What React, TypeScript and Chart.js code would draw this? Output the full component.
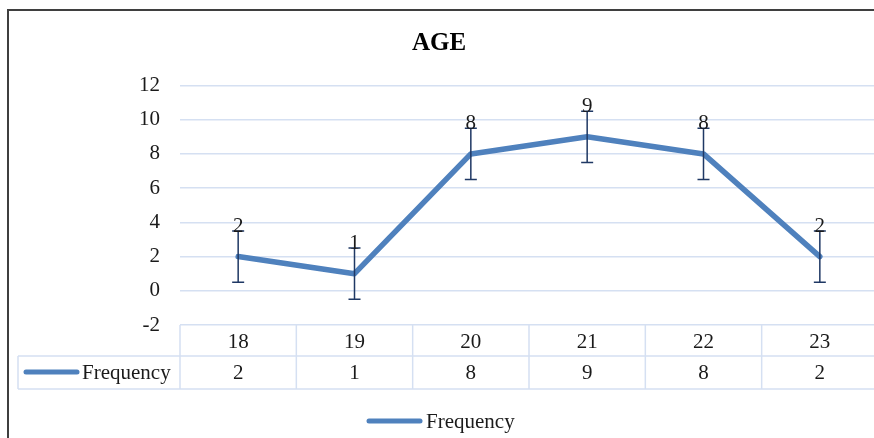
import React, { useEffect, useRef } from "react";
import { Chart, registerables } from "chart.js";

Chart.register(...registerables);

const TITLE = "AGE";
const SERIES_LABEL = "Frequency";
const CATEGORIES = ["18", "19", "20", "21", "22", "23"];
const FREQUENCY = [2, 1, 8, 9, 8, 2];
const ERROR_AMOUNT = [1.5, 1.5, 1.5, 1.5, 1.5, 1.5];
const Y_MIN = -2;
const Y_MAX = 12;
const Y_STEP = 2;

const FONT = '"Liberation Serif", "Times New Roman", serif';
const LINE_COLOR = "#4F81BD";
const GRID_COLOR = "#D5E0F2";
const ERR_COLOR = "#1F3864";
const TEXT_COLOR = "#1a1a1a";

const extrasPlugin = {
  id: "extras",
  beforeDraw(chart: any) {
    const ctx = chart.ctx;
    ctx.save();
    ctx.fillStyle = "#ffffff";
    ctx.fillRect(0, 0, chart.width, chart.height);
    // outer frame
    ctx.fillStyle = "#3f3f3f";
    ctx.fillRect(7, 9, 2, chart.height);
    ctx.fillRect(7, 9, chart.width, 2);
    ctx.restore();
  },
  afterDatasetsDraw(chart: any) {
    const ctx = chart.ctx;
    const xs = chart.scales.x;
    const ys = chart.scales.y;
    const area = chart.chartArea;
    const ds = chart.data.datasets[0];
    const vals: number[] = ds.data;
    const errs: number[] = ds.errors;
    const n = chart.data.labels.length;
    const colW = (area.right - area.left) / n;
    ctx.save();

    // error bars
    ctx.strokeStyle = ERR_COLOR;
    ctx.lineWidth = 1.5;
    for (let i = 0; i < n; i++) {
      const x = xs.getPixelForValue(i);
      const yTop = ys.getPixelForValue(vals[i] + errs[i]);
      const yBot = ys.getPixelForValue(vals[i] - errs[i]);
      ctx.beginPath();
      ctx.moveTo(x, yTop);
      ctx.lineTo(x, yBot);
      ctx.moveTo(x - 6, yTop);
      ctx.lineTo(x + 6, yTop);
      ctx.moveTo(x - 6, yBot);
      ctx.lineTo(x + 6, yBot);
      ctx.stroke();
    }

    // data labels
    ctx.fillStyle = TEXT_COLOR;
    ctx.font = `21px ${FONT}`;
    ctx.textAlign = "center";
    ctx.textBaseline = "alphabetic";
    for (let i = 0; i < n; i++) {
      const x = xs.getPixelForValue(i);
      const yTop = ys.getPixelForValue(vals[i] + errs[i]);
      ctx.fillText(String(vals[i]), x, yTop + 1);
    }

    // data table
    const top = area.bottom;
    const mid = top + 31;
    const bot = top + 64;
    const tableLeft = 18;
    ctx.strokeStyle = GRID_COLOR;
    ctx.lineWidth = 1.5;
    ctx.beginPath();
    ctx.moveTo(tableLeft, mid);
    ctx.lineTo(chart.width, mid);
    ctx.moveTo(tableLeft, bot);
    ctx.lineTo(chart.width, bot);
    ctx.moveTo(tableLeft, mid);
    ctx.lineTo(tableLeft, bot);
    for (let i = 0; i <= n; i++) {
      const bx = area.left + i * colW;
      ctx.moveTo(bx, top);
      ctx.lineTo(bx, bot);
    }
    ctx.stroke();

    ctx.fillStyle = TEXT_COLOR;
    ctx.font = `21px ${FONT}`;
    ctx.textAlign = "center";
    for (let i = 0; i < n; i++) {
      const x = xs.getPixelForValue(i);
      ctx.fillText(String(chart.data.labels[i]), x, top + 23);
      ctx.fillText(String(vals[i]), x, mid + 23);
    }

    // legend key inside table
    ctx.strokeStyle = ds.borderColor;
    ctx.lineWidth = 5;
    ctx.lineCap = "round";
    ctx.beginPath();
    ctx.moveTo(26, mid + 16);
    ctx.lineTo(77, mid + 16);
    ctx.stroke();
    ctx.textAlign = "left";
    ctx.fillText(ds.label, 82, mid + 23);

    // bottom legend
    ctx.beginPath();
    ctx.moveTo(369, 421);
    ctx.lineTo(420, 421);
    ctx.stroke();
    ctx.fillText(ds.label, 426, 428);

    // title
    ctx.font = `bold 25px ${FONT}`;
    ctx.textAlign = "center";
    ctx.fillStyle = "#000";
    ctx.fillText(TITLE, 439, 50);
    ctx.restore();
  },
};

export default function App() {
  const ref = useRef<HTMLCanvasElement | null>(null);
  useEffect(() => {
    if (!ref.current) return;
    const chart = new Chart(ref.current, {
      type: "line",
      data: {
        labels: CATEGORIES,
        datasets: [
          {
            label: SERIES_LABEL,
            data: FREQUENCY,
            errors: ERROR_AMOUNT,
            borderColor: LINE_COLOR,
            backgroundColor: LINE_COLOR,
            borderWidth: 5.5,
            borderJoinStyle: "round",
            borderCapStyle: "round",
            pointRadius: 0,
            tension: 0,
          } as any,
        ],
      },
      options: {
        responsive: false,
        animation: false,
        devicePixelRatio: 1,
        layout: { padding: { top: 85.5, bottom: 113, left: 0, right: 22 } },
        plugins: {
          legend: { display: false },
          title: { display: false },
          tooltip: { enabled: false },
        },
        scales: {
          x: {
            type: "category",
            offset: true,
            display: false,
          },
          y: {
            min: Y_MIN,
            max: Y_MAX,
            afterFit: (s: any) => {
              s.width = 180;
            },
            ticks: {
              stepSize: Y_STEP,
              padding: 20,
              color: TEXT_COLOR,
              font: { family: FONT, size: 21 },
            },
            grid: { color: GRID_COLOR, lineWidth: 1.5, drawTicks: false },
            border: { display: false },
          },
        },
      },
      plugins: [extrasPlugin],
    });
    return () => chart.destroy();
  }, []);
  return (
    <div
      style={{
        position: "fixed",
        left: 0,
        top: 0,
        width: 874,
        height: 438,
        overflow: "hidden",
        background: "#fff",
      }}
    >
      <canvas ref={ref} width={900} height={438} style={{ display: "block" }} />
    </div>
  );
}
